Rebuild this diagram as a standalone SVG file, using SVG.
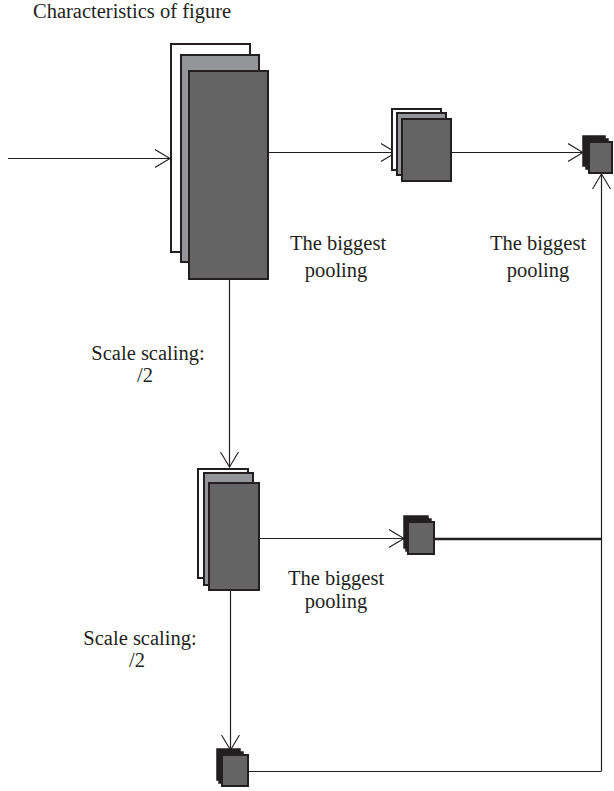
<svg xmlns="http://www.w3.org/2000/svg" width="614" height="791" viewBox="0 0 614 791">
<style>
.w{fill:#ffffff;stroke:#231f20;stroke-width:2}
.g{fill:#939598;stroke:#231f20;stroke-width:2}
.d{fill:#646464;stroke:#231f20;stroke-width:2}
.k{fill:#231f20;stroke:#231f20;stroke-width:1.5}
.ln{fill:none;stroke:#231f20;stroke-width:1.2}
.t{font-family:"Liberation Serif","Times New Roman",serif;font-size:20.5px;fill:#231f20}
</style>
<defs>
<marker id="ah" viewBox="0 0 16 20" refX="15" refY="10" markerWidth="16" markerHeight="20" markerUnits="userSpaceOnUse" orient="auto">
<path d="M0,1 L15,10 L0,19" fill="none" stroke="#231f20" stroke-width="1.1"/>
</marker>
</defs>
<rect width="614" height="791" fill="#ffffff"/>
<g id="connectors">
<line class="ln" x1="8" y1="158.5" x2="170" y2="158.5" marker-end="url(#ah)"/>
<line class="ln" x1="268" y1="152.5" x2="396" y2="152.5" marker-end="url(#ah)"/>
<line class="ln" x1="451" y1="152.5" x2="583" y2="152.5" marker-end="url(#ah)"/>
<line class="ln" x1="229.5" y1="280" x2="229.5" y2="467" marker-end="url(#ah)"/>
<line class="ln" x1="259" y1="538.5" x2="404" y2="538.5" marker-end="url(#ah)"/>
<line fill="none" stroke="#231f20" stroke-width="2.6" x1="434" y1="539" x2="601" y2="539"/>
<line class="ln" x1="230.5" y1="590" x2="230.5" y2="750" marker-end="url(#ah)"/>
<line class="ln" x1="248" y1="771.5" x2="601" y2="771.5"/>
<line class="ln" x1="601.5" y1="771.5" x2="601.5" y2="174" marker-end="url(#ah)"/>
</g>
<g id="feature-map">
<rect class="w" x="171" y="44" width="79" height="208"/>
<rect class="g" x="181" y="55" width="78" height="207"/>
<rect class="d" x="189" y="71" width="79" height="208"/>
</g>
<g id="pool1">
<rect class="w" x="392" y="109" width="49" height="61"/>
<rect class="g" x="397" y="113" width="49" height="62"/>
<rect class="d" x="402" y="119" width="49" height="62"/>
</g>
<g id="pool1-out">
<rect class="k" x="583" y="136" width="22" height="30"/>
<rect class="k" x="586" y="139" width="22" height="30"/>
<rect class="d" x="589" y="142" width="23" height="31"/>
</g>
<g id="scaled1">
<rect class="w" x="198" y="469" width="50" height="109"/>
<rect class="g" x="204" y="473" width="49" height="112"/>
<rect class="d" x="209" y="483" width="50" height="107"/>
</g>
<g id="pool2-out">
<rect class="k" x="404" y="516" width="24" height="32"/>
<rect class="k" x="406" y="519" width="25" height="32"/>
<rect class="d" x="408" y="522" width="26" height="32"/>
</g>
<g id="scaled2">
<rect class="k" x="217" y="749" width="23" height="31"/>
<rect class="k" x="219" y="752" width="24" height="31"/>
<rect class="d" x="222" y="755" width="26" height="31"/>
</g>
<g id="labels">
<text class="t" x="33" y="18">Characteristics of figure</text>
<text class="t" x="338" y="250" text-anchor="middle">The biggest</text>
<text class="t" x="336" y="277" text-anchor="middle">pooling</text>
<text class="t" x="538" y="250" text-anchor="middle">The biggest</text>
<text class="t" x="538" y="277" text-anchor="middle">pooling</text>
<text class="t" x="148" y="360" text-anchor="middle">Scale scaling:</text>
<text class="t" x="145" y="382" text-anchor="middle">/2</text>
<text class="t" x="336" y="585" text-anchor="middle">The biggest</text>
<text class="t" x="336" y="608" text-anchor="middle">pooling</text>
<text class="t" x="140" y="645" text-anchor="middle">Scale scaling:</text>
<text class="t" x="137" y="667" text-anchor="middle">/2</text>
</g>
</svg>
